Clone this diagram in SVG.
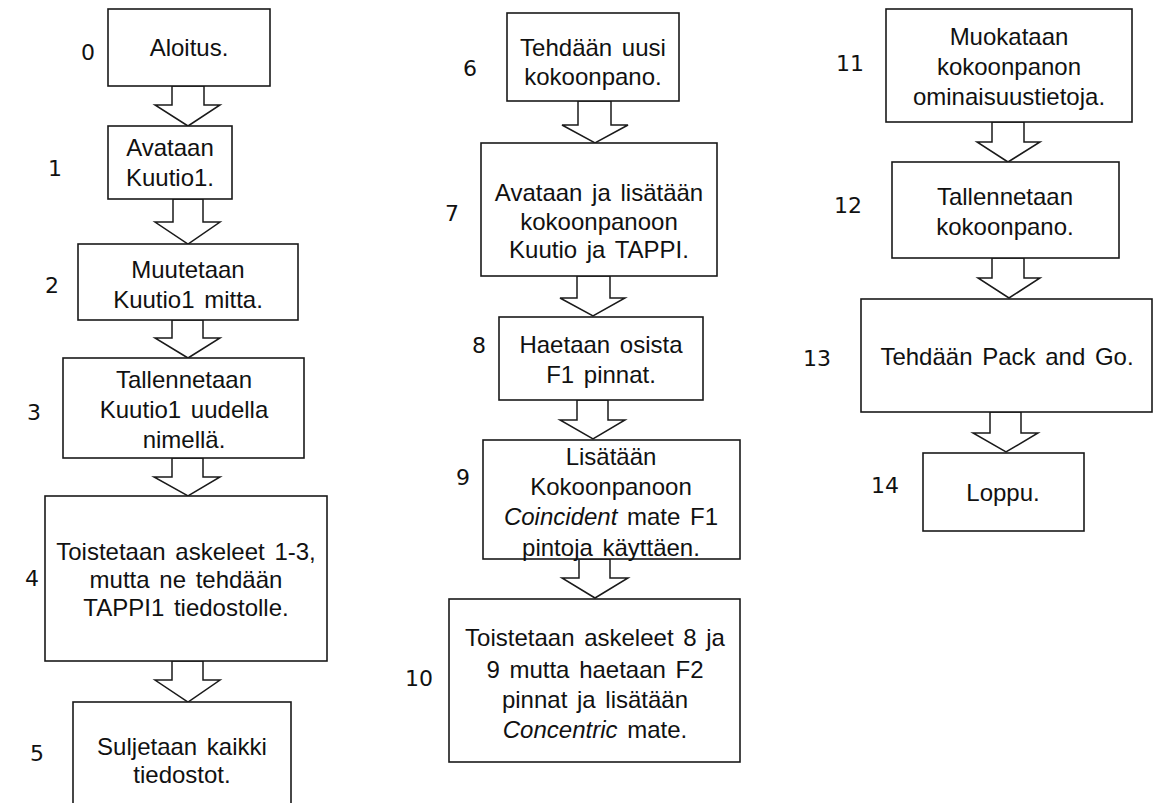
<svg xmlns="http://www.w3.org/2000/svg" width="1154" height="803" viewBox="0 0 1154 803">
<style>
.box{fill:#fff;stroke:#1a1a1a;stroke-width:1.6}
.arr{fill:#fff;stroke:#1a1a1a;stroke-width:1.5;stroke-linejoin:miter}
.t{font-family:"Liberation Sans",Arial,sans-serif;font-size:24px;fill:#111;text-anchor:middle;word-spacing:3px}
.n{font-family:"DejaVu Sans","Liberation Sans",sans-serif;font-size:22px;fill:#111;text-anchor:middle}
</style>
<rect width="1154" height="803" fill="#fff"/>
<g id="connectors">
<polygon class="arr" points="172,86 172,105 155,105 188,126 220,105 204,105 204,86"/>
<polygon class="arr" points="173,199 173,222 155,222 188,244 220,222 203,222 203,199"/>
<polygon class="arr" points="172,320 172,338 155,338 188,358 220,338 203,338 203,320"/>
<polygon class="arr" points="172,458 172,477 154,477 188,496 220,477 203,477 203,458"/>
<polygon class="arr" points="172,661 172,680 155,680 188,702 220,680 203,680 203,661"/>
<polygon class="arr" points="578,101 578,125 562,125 595,143 628,125 611,125 611,101"/>
<polygon class="arr" points="577,276 577,298 560,298 593,316 625,298 610,298 610,276"/>
<polygon class="arr" points="577,400 577,420 560,420 593,439 625,420 608,420 608,400"/>
<polygon class="arr" points="579,559 579,578 562,578 595,598 628,578 610,578 610,559"/>
<polygon class="arr" points="992,122 992,142 977,142 1008,162 1040,142 1024,142 1024,122"/>
<polygon class="arr" points="992,258 992,278 978,278 1009,298 1040,278 1024,278 1024,258"/>
<polygon class="arr" points="990,412 990,433 973,433 1006,452 1038,433 1021,433 1021,412"/>
</g>
<g id="node0"><rect class="box" x="108" y="9" width="162" height="77"/><text class="t" x="189" y="56">Aloitus.</text><text class="n" x="88" y="60">0</text></g>
<g id="node1"><rect class="box" x="108" y="126" width="124" height="73"/><text class="t" x="170" y="156">Avataan</text><text class="t" x="170" y="186">Kuutio1.</text><text class="n" x="55" y="176">1</text></g>
<g id="node2"><rect class="box" x="78" y="244" width="220" height="76"/><text class="t" x="188" y="278">Muutetaan</text><text class="t" x="188" y="308">Kuutio1 mitta.</text><text class="n" x="52" y="293">2</text></g>
<g id="node3"><rect class="box" x="63" y="358" width="241" height="100"/><text class="t" x="184" y="388">Tallennetaan</text><text class="t" x="184" y="418">Kuutio1 uudella</text><text class="t" x="184" y="448">nimellä.</text><text class="n" x="34" y="420">3</text></g>
<g id="node4"><rect class="box" x="45" y="496" width="282" height="165"/><text class="t" x="186" y="560">Toistetaan askeleet 1-3,</text><text class="t" x="186" y="588">mutta ne tehdään</text><text class="t" x="186" y="616">TAPPI1 tiedostolle.</text><text class="n" x="32" y="586">4</text></g>
<g id="node5"><rect class="box" x="73" y="702" width="218" height="120"/><text class="t" x="182" y="755">Suljetaan kaikki</text><text class="t" x="182" y="783">tiedostot.</text><text class="n" x="37" y="761">5</text></g>
<g id="node6"><rect class="box" x="507" y="13" width="172" height="88"/><text class="t" x="593" y="56">Tehdään uusi</text><text class="t" x="593" y="85">kokoonpano.</text><text class="n" x="470" y="76">6</text></g>
<g id="node7"><rect class="box" x="481" y="143" width="236" height="133"/><text class="t" x="599" y="201">Avataan ja lisätään</text><text class="t" x="599" y="230">kokoonpanoon</text><text class="t" x="599" y="258">Kuutio ja TAPPI.</text><text class="n" x="452" y="221">7</text></g>
<g id="node8"><rect class="box" x="499" y="317" width="204" height="83"/><text class="t" x="601" y="353">Haetaan osista</text><text class="t" x="601" y="383">F1 pinnat.</text><text class="n" x="479" y="353">8</text></g>
<g id="node9"><rect class="box" x="483" y="440" width="257" height="119"/><text class="t" x="611" y="465">Lisätään</text><text class="t" x="611" y="495">Kokoonpanoon</text><text class="t" x="611" y="525"><tspan font-style="italic">Coincident</tspan> mate F1</text><text class="t" x="611" y="556">pintoja käyttäen.</text><text class="n" x="463" y="485">9</text></g>
<g id="node10"><rect class="box" x="449" y="599" width="291" height="163"/><text class="t" x="595" y="646">Toistetaan askeleet 8 ja</text><text class="t" x="595" y="678">9 mutta haetaan F2</text><text class="t" x="595" y="708">pinnat ja lisätään</text><text class="t" x="595" y="738"><tspan font-style="italic">Concentric</tspan> mate.</text><text class="n" x="419" y="686">10</text></g>
<g id="node11"><rect class="box" x="886" y="9" width="246" height="113"/><text class="t" x="1009" y="45">Muokataan</text><text class="t" x="1009" y="75">kokoonpanon</text><text class="t" x="1009" y="105">ominaisuustietoja.</text><text class="n" x="850" y="71">11</text></g>
<g id="node12"><rect class="box" x="892" y="162" width="227" height="96"/><text class="t" x="1005" y="205">Tallennetaan</text><text class="t" x="1005" y="235">kokoonpano.</text><text class="n" x="848" y="213">12</text></g>
<g id="node13"><rect class="box" x="861" y="299" width="291" height="113"/><text class="t" x="1007" y="365">Tehdään Pack and Go.</text><text class="n" x="817" y="366">13</text></g>
<g id="node14"><rect class="box" x="923" y="453" width="161" height="78"/><text class="t" x="1003" y="501">Loppu.</text><text class="n" x="885" y="493">14</text></g>
</svg>
